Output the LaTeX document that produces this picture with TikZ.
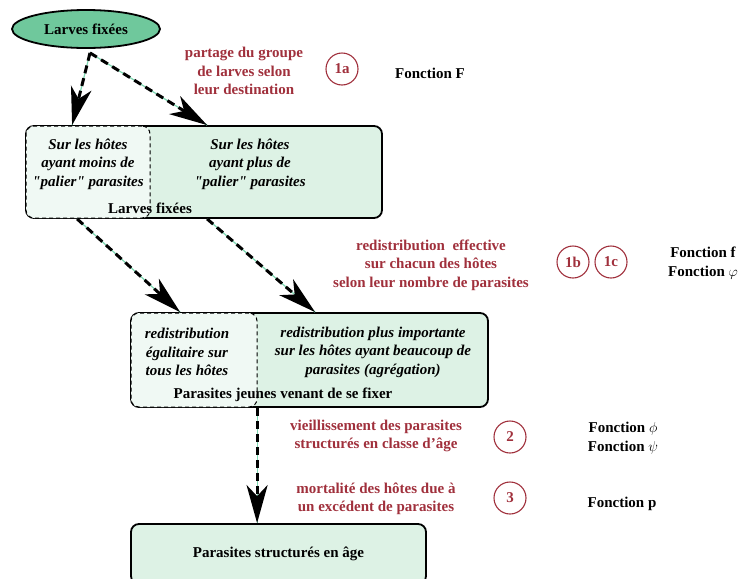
\documentclass[tikz,border=0pt]{standalone}
\usepackage{amssymb,amsmath}
\usepackage{fontspec}
\setmainfont{Liberation Serif}[Ligatures=TeXOff]
\usetikzlibrary{shapes.geometric}
\usetikzlibrary{arrows.meta}
\usetikzlibrary{positioning}

\definecolor{larvegreen}{HTML}{6FC89C}
\definecolor{boxgreen}{HTML}{DDF2E5}
\definecolor{palegreen}{HTML}{F0F9F4}
\definecolor{guidegreen}{HTML}{7ED8B2}
\definecolor{stepred}{HTML}{A0303C}

\begin{document}
\begin{tikzpicture}[x=1pt, y=-1pt,
  every node/.style={font=\bfseries\fontsize{15}{18.6}\selectfont},
  bigbox/.style={draw=black, line width=1.8pt, rounded corners=8pt, fill=boxgreen, inner sep=0pt},
  subbox/.style={draw=black, line width=1pt, dash pattern=on 4pt off 3pt, rounded corners=8pt, fill=palegreen, inner sep=0pt},
  hosttext/.style={align=center, font=\bfseries\itshape\fontsize{15}{18.6}\selectfont},
  steplabel/.style={align=center, text=stepred},
  stepmark/.style={circle, draw=stepred, text=stepred, line width=1.1pt, minimum size=32pt, inner sep=0pt},
  funclabel/.style={align=center},
  guide/.style={draw=guidegreen, line width=1.2pt},
  flow/.style={draw=black, line width=3pt, dash pattern=on 8pt off 5pt,
               -{Stealth[length=38pt, width=21pt, inset=11pt]}}]
\useasboundingbox (0,0) rectangle (740,579);

  % larves
  \node[ellipse, draw, line width=1.8pt, fill=larvegreen, minimum width=148pt,
        minimum height=38pt] (larves) at (86,29) {Larves fixées};

  % first box: larves fixees
  \node[bigbox, minimum width=356pt, minimum height=92pt] (fixbox) at (204,172) {};
  \node[subbox, minimum width=124pt, minimum height=92pt] (fixlow) at (88,172) {};
  \node[hosttext] (fixlowtxt) at (88,164) {Sur les hôtes\\ayant moins de\\"palier" parasites};
  \node[hosttext] (fixhightxt) at (250,164) {Sur les hôtes\\ayant plus de\\"palier" parasites};
  \node (fixname) at (150,208) {Larves fixées};

  % second box: jeunes parasites
  \node[bigbox, minimum width=357pt, minimum height=94pt] (youngbox) at (309.5,360) {};
  \node[subbox, minimum width=126pt, minimum height=94pt] (younglow) at (194,360) {};
  \node[hosttext] (younglowtxt) at (187,352) {redistribution\\égalitaire sur\\tous les hôtes};
  \node[hosttext] (younghightxt) at (373,352) {redistribution plus importante\\sur les hôtes ayant beaucoup de\\parasites (agrégation)};
  \node (youngname) at (283,395) {Parasites jeunes venant de se fixer};

  % third box
  \node[bigbox, minimum width=295pt, minimum height=60pt] (agebox) at (278.5,554) {Parasites structurés en âge};

  % connector ends
  \coordinate (split) at ([xshift=4pt, yshift=-4pt]larves.south);
  \coordinate (fixin1) at ([xshift=47pt]fixbox.north west);
  \coordinate (fixin2) at ([xshift=182pt]fixbox.north west);
  \coordinate (fixout1) at ([xshift=52pt]fixbox.south west);
  \coordinate (fixout2) at ([xshift=182pt]fixbox.south west);
  \coordinate (youngin1) at ([xshift=50pt]youngbox.north west);
  \coordinate (youngin2) at ([xshift=185pt]youngbox.north west);
  \coordinate (youngout) at ([xshift=127pt]youngbox.south west);
  \coordinate (agein) at ([xshift=127pt]agebox.north west);

  % connectors
  \foreach \src/\dst in {split/fixin1, split/fixin2, fixout1/youngin1,
                         fixout2/youngin2, youngout/agein} {
    \draw[guide] (\src) -- (\dst);
    \draw[flow] (\src) -- (\dst);
  }

  % steps
  \node[steplabel] (partage) at (244,71) {partage du groupe\\de larves selon\\leur destination};
  \node[stepmark] (s1a) at (342,69) {1a};
  \node[funclabel] (fF) at (430,73) {Fonction F};

  \node[steplabel] (redis) at (431,265) {redistribution\ \ effective\\sur chacun des hôtes\\selon leur nombre de parasites};
  \node[stepmark] (s1b) at (573,262) {1b};
  \node[stepmark] (s1c) at (611,262) {1c};
  \node[funclabel] (ff) at (703,263) {Fonction f\\Fonction $\varphi$};

  \node[steplabel] (vieil) at (376,436) {vieillissement des parasites\\structurés en classe d’âge};
  \node[stepmark] (s2) at (510,437) {2};
  \node[funclabel] (fphi) at (623,438) {Fonction $\phi$\\Fonction $\psi$};

  \node[steplabel] (mort) at (376,499) {mortalité des hôtes due à\\un excédent de parasites};
  \node[stepmark] (s3) at (510,498) {3};
  \node[funclabel] (fp) at (622,504) {Fonction p};
\end{tikzpicture}
\end{document}
